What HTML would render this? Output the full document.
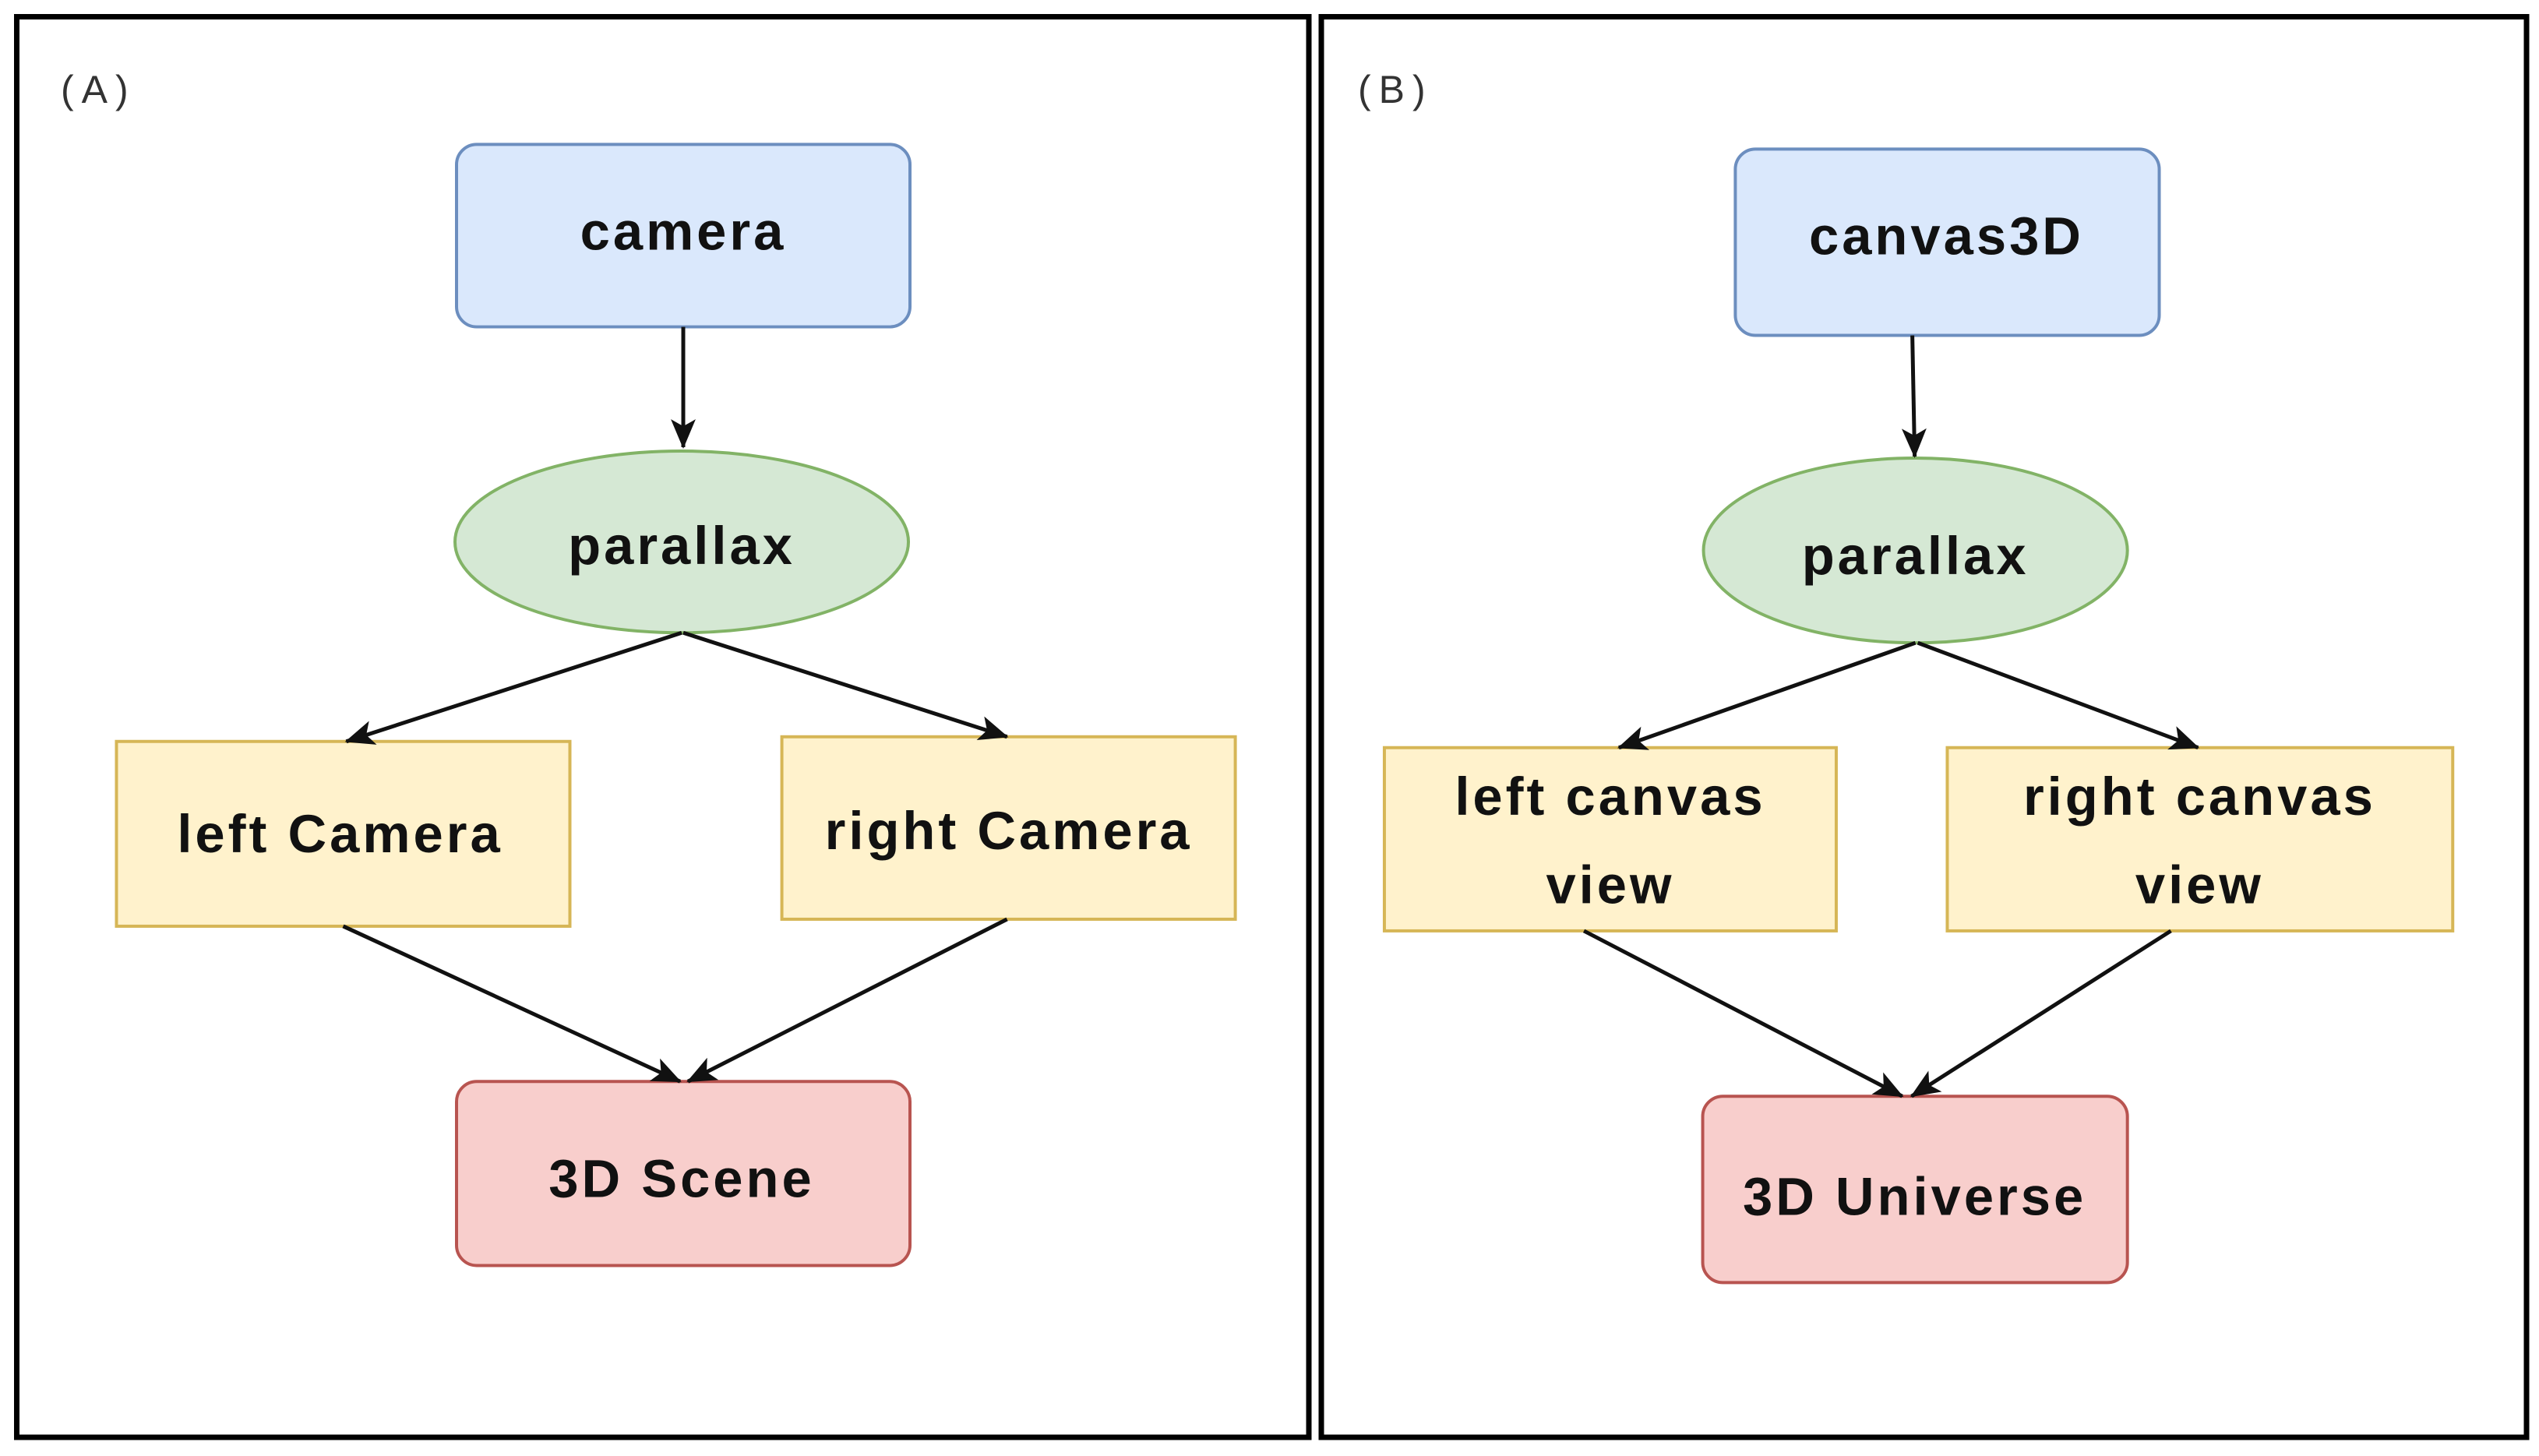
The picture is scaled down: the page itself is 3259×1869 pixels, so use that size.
<!DOCTYPE html>
<html><head><meta charset="utf-8"><style>
html,body{margin:0;padding:0;background:#fff;}
svg{display:block;}
text{font-family:"Liberation Sans",Arial,sans-serif;}
.n{font-weight:bold;font-size:69px;letter-spacing:4px;fill:#111;text-anchor:middle;dominant-baseline:central;}
.lab{font-size:50px;letter-spacing:10px;fill:#333;}
.e{stroke:#111;stroke-width:5;fill:none;}
</style></head><body>
<svg width="3259" height="1869" viewBox="0 0 3259 1869" xmlns="http://www.w3.org/2000/svg">
<defs>
<marker id="b" markerWidth="38" markerHeight="34" refX="36" refY="17" orient="auto" markerUnits="userSpaceOnUse" viewBox="0 0 38 34">
<path d="M0,1 L38,17 L0,33 L9,17 Z" fill="#111"/>
</marker>
</defs>
<rect x="21.5" y="21.5" width="1658.5" height="1823.5" fill="#fff" stroke="#000" stroke-width="7"/>
<rect x="1696" y="21.5" width="1547" height="1823.5" fill="#fff" stroke="#000" stroke-width="7"/>
<text class="lab" x="78" y="132">(A)</text>
<text class="lab" x="1743" y="132">(B)</text>
<g transform="scale(0.9966)">
<!-- Panel A -->
<rect x="588" y="186" width="584" height="235" rx="26" fill="#dae8fc" stroke="#6c8ebf" stroke-width="4"/>
<text class="n" x="880" y="298">camera</text>
<ellipse cx="878" cy="698" rx="292" ry="117" fill="#d5e8d4" stroke="#82b366" stroke-width="4"/>
<text class="n" x="878" y="703">parallax</text>
<rect x="150" y="955" width="584" height="238" fill="#fff2cc" stroke="#d6b656" stroke-width="4"/>
<text class="n" x="438" y="1074">left Camera</text>
<rect x="1007" y="949" width="584" height="235" fill="#fff2cc" stroke="#d6b656" stroke-width="4"/>
<text class="n" x="1299" y="1070">right Camera</text>
<rect x="588" y="1393" width="584" height="237" rx="26" fill="#f8cecc" stroke="#b85450" stroke-width="4"/>
<text class="n" x="878" y="1518">3D Scene</text>
<line class="e" x1="880" y1="421" x2="880" y2="576" marker-end="url(#b)"/>
<line class="e" x1="878" y1="815" x2="446" y2="955" marker-end="url(#b)"/>
<line class="e" x1="880" y1="815" x2="1297" y2="949" marker-end="url(#b)"/>
<line class="e" x1="442" y1="1193" x2="876" y2="1393" marker-end="url(#b)"/>
<line class="e" x1="1297" y1="1184" x2="886" y2="1393" marker-end="url(#b)"/>

<!-- Panel B -->
<rect x="2235" y="192" width="546" height="240" rx="26" fill="#dae8fc" stroke="#6c8ebf" stroke-width="4"/>
<text class="n" x="2507" y="304">canvas3D</text>
<ellipse cx="2467" cy="709" rx="273" ry="119" fill="#d5e8d4" stroke="#82b366" stroke-width="4"/>
<text class="n" x="2467" y="716">parallax</text>
<rect x="1783" y="963" width="582" height="236" fill="#fff2cc" stroke="#d6b656" stroke-width="4"/>
<text class="n" x="2074" y="1026">left canvas</text>
<text class="n" x="2074" y="1140">view</text>
<rect x="2508" y="963" width="651" height="236" fill="#fff2cc" stroke="#d6b656" stroke-width="4"/>
<text class="n" x="2833" y="1026">right canvas</text>
<text class="n" x="2833" y="1140">view</text>
<rect x="2193" y="1412" width="547" height="240" rx="26" fill="#f8cecc" stroke="#b85450" stroke-width="4"/>
<text class="n" x="2466" y="1541">3D Universe</text>
<line class="e" x1="2463" y1="432" x2="2466" y2="588" marker-end="url(#b)"/>
<line class="e" x1="2467" y1="828" x2="2085" y2="963" marker-end="url(#b)"/>
<line class="e" x1="2470" y1="828" x2="2831" y2="963" marker-end="url(#b)"/>
<line class="e" x1="2040" y1="1199" x2="2450" y2="1412" marker-end="url(#b)"/>
<line class="e" x1="2796" y1="1199" x2="2462" y2="1412" marker-end="url(#b)"/>
</g>
</svg>
</body></html>
